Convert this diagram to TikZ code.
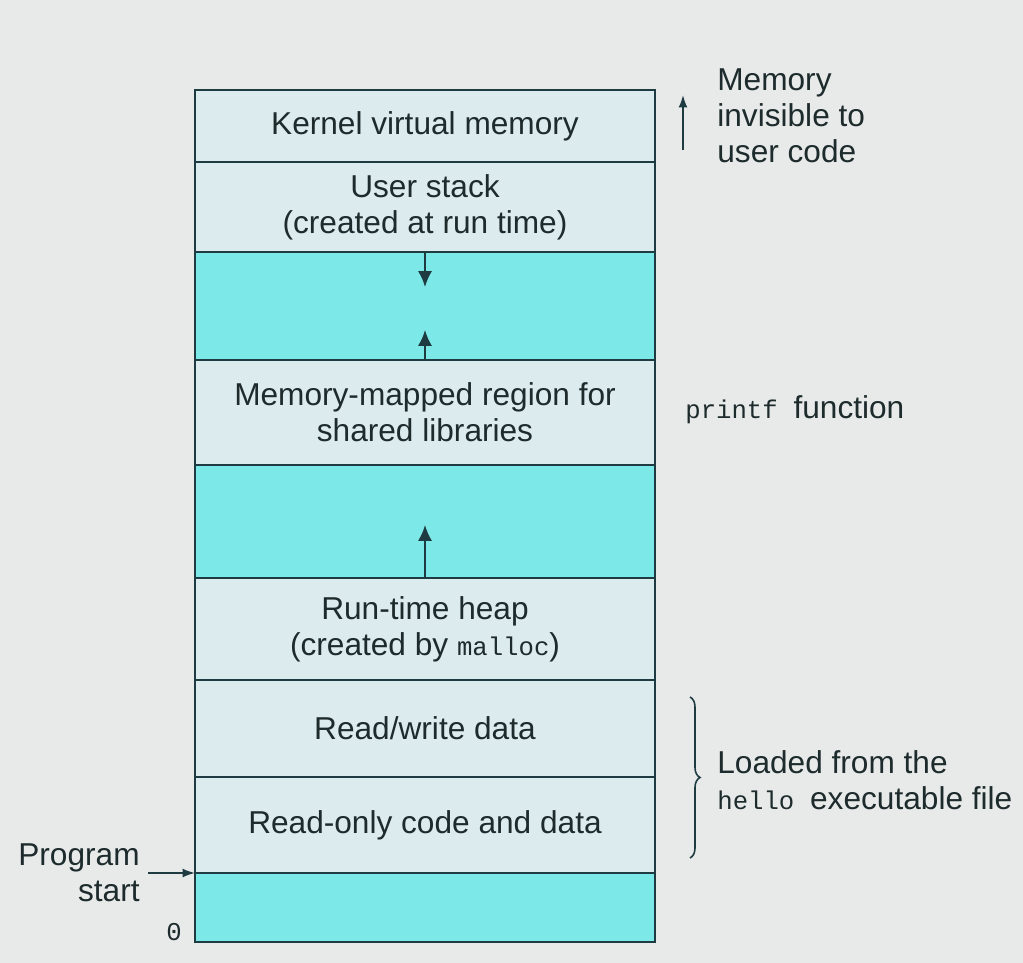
\documentclass[tikz,border=0pt]{standalone}
\usepackage{fontspec}
\setmainfont{Liberation Sans}
\setmonofont{Liberation Mono}
\usepackage{tikz}
\usetikzlibrary{positioning,decorations.pathreplacing,arrows.meta}
\definecolor{bgc}{HTML}{E8EAEA}
\definecolor{boxc}{HTML}{DCEBEE}
\definecolor{gapc}{HTML}{7DE8E8}
\definecolor{linec}{HTML}{1D3B40}
\definecolor{textc}{HTML}{1E2B2C}
\newcommand\code[1]{{\fontsize{14.6}{16}\selectfont\ttfamily #1}}

\begin{document}
\begin{tikzpicture}[
    seg/.style={rectangle,draw=linec,fill=boxc,line width=1.3pt,minimum width=9.2cm,
        inner sep=0pt,outer sep=0pt,align=center,text=textc,
        font=\fontsize{18}{20.4}\selectfont},
    hole/.style={seg,fill=gapc},
    note/.style={align=left,text=textc,inner sep=0pt,font=\fontsize{18}{20.4}\selectfont},
    growarrow/.style={-{Latex[length=9pt,width=8pt]},draw=linec,line width=1.2pt},
    side/.style={-{Latex[length=7pt,width=5pt]},draw=linec,line width=0.9pt},
    node distance=0pt,
]
\fill[bgc] (0,0) rectangle (20.46,-19.26);
\useasboundingbox (0,0) rectangle (20.46,-19.26);

% address space, top to bottom
\node[seg,minimum height=1.44cm,anchor=north west] (kernel) at (3.9,-1.8) {Kernel virtual memory};
\node[seg,minimum height=1.8cm,below=of kernel] (stack) {User stack\\(created at run time)};
\node[hole,minimum height=2.16cm,below=of stack] (gapA) {};
\node[seg,minimum height=2.1cm,below=of gapA] (mmap) {Memory-mapped region for\\shared libraries};
\node[hole,minimum height=2.26cm,below=of mmap] (gapB) {};
\node[seg,minimum height=2.04cm,below=of gapB] (heap) {Run-time heap\\(created by \code{malloc})};
\node[seg,minimum height=1.94cm,below=of heap] (rwdata) {Read/write data};
\node[seg,minimum height=1.92cm,below=of rwdata] (rocode) {Read-only code and data};
\node[hole,minimum height=1.38cm,below=of rocode] (gapC) {};

% growth arrows
\coordinate[below=0.7cm of stack.south] (stacktip);
\coordinate[above=0.6cm of mmap.north] (mmaptip);
\coordinate[above=1.06cm of heap.north] (heaptip);
\draw[growarrow] (stack.south) -- (stacktip);
\draw[growarrow] (mmap.north) -- (mmaptip);
\draw[growarrow] (heap.north) -- (heaptip);

% labels on the right
\coordinate (invlow) at (13.66,-3.0);
\coordinate (invhigh) at (13.66,-1.9);
\draw[side] (invlow) -- (invhigh);
\node[note,anchor=west] (invis) at (14.34,-2.32) {Memory\\invisible to\\user code};
\node[note,anchor=west] (printf) at (13.7,-8.2) {\code{printf}\enspace function};

\coordinate (bracetop) at (13.8,-13.94);
\coordinate (bracebot) at (13.8,-17.16);
\draw[linec,line width=0.9pt,decorate,decoration={brace,amplitude=0.2cm}] (bracetop) -- (bracebot);
\node[note,anchor=west] (loaded) at (14.34,-15.6) {Loaded from the\\\code{hello}\enspace executable file};

% labels on the left
\node[note,align=right,anchor=east] (start) at (2.8,-17.46) {Program\\start};
\coordinate (starttail) at (2.96,-17.46);
\draw[side] (starttail) -- (rocode.south west);
\node[text=textc,anchor=center] (zero) at (3.48,-18.64) {\code{0}};
\end{tikzpicture}
\end{document}
